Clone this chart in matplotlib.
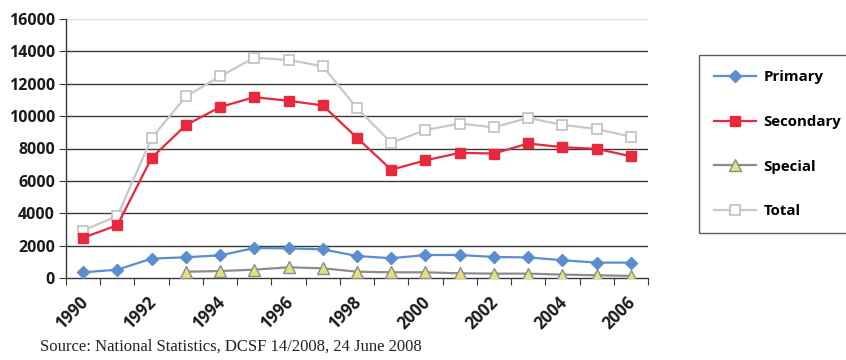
import matplotlib
matplotlib.use("Agg")
import matplotlib.pyplot as plt
import numpy as np

years = list(range(1990, 2007))
primary = [350, 515, 1195, 1280, 1400, 1850, 1830, 1770, 1360, 1220, 1420, 1420, 1300, 1270, 1100, 950, 950]
secondary = [2490, 3260, 7420, 9440, 10560, 11170, 10950, 10660, 8660, 6690, 7270, 7730, 7690, 8310, 8080, 7980, 7520]
special = [None, None, None, 390, 430, 515, 660, 600, 390, 350, 350, 290, 270, 270, 210, 170, 130]
total = [2930, 3830, 8640, 11215, 12450, 13610, 13470, 13080, 10500, 8350, 9140, 9540, 9310, 9890, 9460, 9210, 8730]
yticks = [0, 2000, 4000, 6000, 8000, 10000, 12000, 14000, 16000]

plt.rcParams['font.family'] = ['Open Sans', 'DejaVu Sans']

fig = plt.figure(figsize=(8.46, 3.6), dpi=100)
ax = fig.add_axes([66/846, 1-278/360, (648-66)/846, (278-19)/360])

x = np.arange(len(years))
sp = np.array([np.nan if v is None else v for v in special], dtype=float)

l1, = ax.plot(x, primary, color='#5B8ED0', lw=1.6, marker='D', ms=6.5, mfc='#5B8ED0', mec='#5B8ED0', label='Primary', zorder=4)
l2, = ax.plot(x, secondary, color='#E8283C', lw=1.6, marker='s', ms=7.5, mfc='#E8283C', mec='#E8283C', label='Secondary', zorder=4)
l3, = ax.plot(x, sp, color='#8C8C8C', lw=1.6, marker='^', ms=8, mfc='#E6E27A', mec='#8C8C8C', mew=1.0, label='Special', zorder=4)
l4, = ax.plot(x, total, color='#C8C8C8', lw=1.6, marker='s', ms=7.5, mfc='white', mec='#C0C0C0', mew=1.2, label='Total', zorder=3)

ax.set_xlim(-0.5, len(years) - 0.5)
ax.set_ylim(0, 16000)
ax.set_yticks(yticks)
ax.set_yticklabels([str(v) for v in yticks], fontsize=11.5, fontweight='bold', color='#1a1a1a')

for v in yticks[1:]:
    c = '#E0E0E0' if v == 16000 else '#3a3a3a'
    ax.axhline(v, color=c, lw=1.0, zorder=1)

ax.set_xticks(np.arange(-0.5, len(years)), minor=False)
ax.set_xticklabels([])
# label anchors nudged slightly right of each category centre, as in the reference
ax.set_xticks(x[::2] + 0.24, minor=True)
ax.set_xticklabels([str(years[i]) for i in range(0, len(years), 2)], minor=True,
                   rotation=45, ha='right', va='top', fontsize=12, fontweight='bold', color='#1a1a1a')
ax.tick_params(axis='x', which='minor', length=0, pad=11)
ax.tick_params(axis='x', which='major', length=5, color='#3a3a3a', direction='out')
ax.tick_params(axis='y', length=5, color='#3a3a3a', direction='out', pad=3)

for s in ['top', 'right']:
    ax.spines[s].set_visible(False)
for s in ['left', 'bottom']:
    ax.spines[s].set_color('#3a3a3a')
    ax.spines[s].set_linewidth(1.0)

leg = fig.legend(handles=[l1, l2, l3, l4], loc='upper left', bbox_to_anchor=(699/846, 1-55/360),
                 borderaxespad=0, frameon=True, fancybox=False, edgecolor='#333333',
                 prop={'family': 'Open Sans', 'weight': 'bold', 'size': 10.8},
                 handlelength=2.8, handletextpad=0.5, labelspacing=2.05, borderpad=1.0)
leg.get_frame().set_linewidth(1.0)

fig.text(40/846, 1-347/360, 'Source: National Statistics, DCSF 14/2008, 24 June 2008',
         family='Liberation Serif', fontsize=12, va='center', ha='left', color='#222222')

fig.savefig('out.png', dpi=100)
